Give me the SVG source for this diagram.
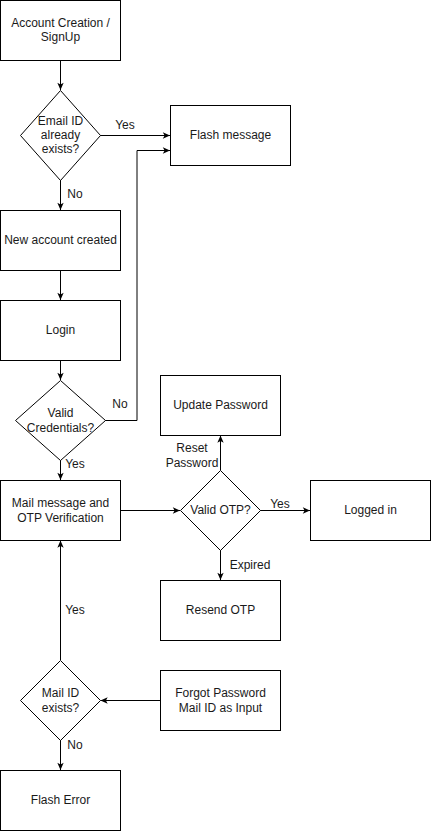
<svg xmlns="http://www.w3.org/2000/svg" width="431" height="831" viewBox="0 0 431 831">
<defs>
<style>
.box{fill:#fff;stroke:#000;stroke-width:1}
.t{font-family:"Liberation Sans",Arial,sans-serif;font-size:12px;fill:#1a1a1a;text-anchor:middle}
.c{fill:none;stroke:#000;stroke-width:1}
</style>
<marker id="arr" viewBox="0 0 10 10" refX="9" refY="5" markerWidth="9" markerHeight="9" markerUnits="userSpaceOnUse" orient="auto">
<path d="M1,1.5 L9,5 L1,8.5 L3,5 z" fill="#000"/>
</marker>
</defs>
<rect width="431" height="831" fill="#fff"/>
<g id="connectors">
<path class="c" d="M60.5,60.5 V90" marker-end="url(#arr)"/>
<path class="c" d="M100,135.5 H170" marker-end="url(#arr)"/>
<path class="c" d="M60.5,180 V210" marker-end="url(#arr)"/>
<path class="c" d="M60.5,270.5 V300" marker-end="url(#arr)"/>
<path class="c" d="M60.5,360.5 V380" marker-end="url(#arr)"/>
<path class="c" d="M105,420.5 H137 V150.5 H170" marker-end="url(#arr)"/>
<path class="c" d="M60.5,460 V480" marker-end="url(#arr)"/>
<path class="c" d="M120.5,510.5 H180" marker-end="url(#arr)"/>
<path class="c" d="M260,510.5 H310" marker-end="url(#arr)"/>
<path class="c" d="M220.5,470.5 V435.5" marker-end="url(#arr)"/>
<path class="c" d="M220.5,550 V580" marker-end="url(#arr)"/>
<path class="c" d="M60.5,660 V540.5" marker-end="url(#arr)"/>
<path class="c" d="M160,700.5 H100.5" marker-end="url(#arr)"/>
<path class="c" d="M60.5,740 V770" marker-end="url(#arr)"/>
<text class="t" x="125" y="129">Yes</text>
<text class="t" x="75" y="198">No</text>
<text class="t" x="120" y="408">No</text>
<text class="t" x="75" y="468">Yes</text>
<text class="t" x="192" y="452">Reset</text>
<text class="t" x="192" y="467">Password</text>
<text class="t" x="280" y="508">Yes</text>
<text class="t" x="250" y="569">Expired</text>
<text class="t" x="75" y="614">Yes</text>
<text class="t" x="75" y="749">No</text>
</g>
<g id="n-signup">
<rect class="box" x="0.5" y="0.5" width="120" height="60"/>
<text class="t" x="60.5" y="27">Account Creation /</text>
<text class="t" x="60.5" y="41">SignUp</text>
</g>
<g id="n-email-exists">
<path class="box" d="M60.5,90.5 L100.5,135.5 L60.5,180.5 L20.5,135.5 Z"/>
<text class="t" x="60.5" y="125">Email ID</text>
<text class="t" x="60.5" y="139">already</text>
<text class="t" x="60.5" y="153">exists?</text>
</g>
<g id="n-flash-message">
<rect class="box" x="170.5" y="105.5" width="120" height="60"/>
<text class="t" x="230.5" y="139">Flash message</text>
</g>
<g id="n-new-account">
<rect class="box" x="0.5" y="210.5" width="120" height="60"/>
<text class="t" x="60.5" y="244">New account created</text>
</g>
<g id="n-login">
<rect class="box" x="0.5" y="300.5" width="120" height="60"/>
<text class="t" x="60.5" y="334">Login</text>
</g>
<g id="n-valid-cred">
<path class="box" d="M60.5,380.5 L105.5,420.5 L60.5,460.5 L15.5,420.5 Z"/>
<text class="t" x="60.5" y="417">Valid</text>
<text class="t" x="60.5" y="432">Credentials?</text>
</g>
<g id="n-mail-otp">
<rect class="box" x="0.5" y="480.5" width="120" height="60"/>
<text class="t" x="60.5" y="507">Mail message and</text>
<text class="t" x="60.5" y="522">OTP Verification</text>
</g>
<g id="n-update-password">
<rect class="box" x="160.5" y="375.5" width="120" height="60"/>
<text class="t" x="220.5" y="409">Update Password</text>
</g>
<g id="n-valid-otp">
<path class="box" d="M220.5,470.5 L260.5,510.5 L220.5,550.5 L180.5,510.5 Z"/>
<text class="t" x="220.5" y="514">Valid OTP?</text>
</g>
<g id="n-logged-in">
<rect class="box" x="310.5" y="480.5" width="120" height="60"/>
<text class="t" x="370.5" y="514">Logged in</text>
</g>
<g id="n-resend-otp">
<rect class="box" x="160.5" y="580.5" width="120" height="60"/>
<text class="t" x="220.5" y="614">Resend OTP</text>
</g>
<g id="n-mail-exists">
<path class="box" d="M60.5,660.5 L100.5,700.5 L60.5,740.5 L20.5,700.5 Z"/>
<text class="t" x="60.5" y="697">Mail ID</text>
<text class="t" x="60.5" y="712">exists?</text>
</g>
<g id="n-forgot">
<rect class="box" x="160.5" y="670.5" width="120" height="60"/>
<text class="t" x="220.5" y="697">Forgot Password</text>
<text class="t" x="220.5" y="712">Mail ID as Input</text>
</g>
<g id="n-flash-error">
<rect class="box" x="0.5" y="770.5" width="120" height="60"/>
<text class="t" x="60.5" y="804">Flash Error</text>
</g>
</svg>
